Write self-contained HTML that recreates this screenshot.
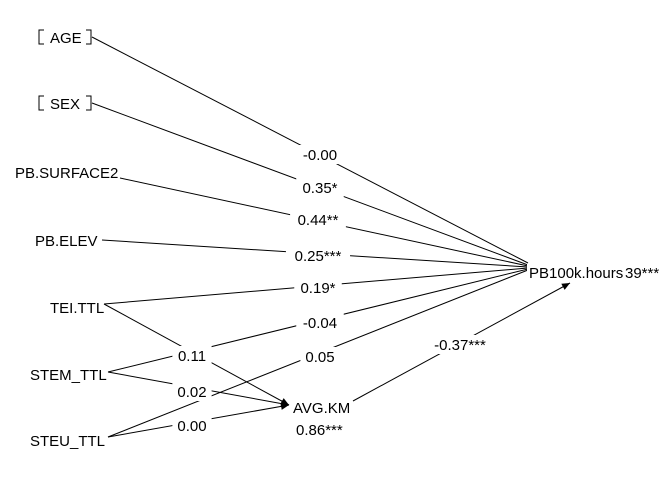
<!DOCTYPE html>
<html><head><meta charset="utf-8"><style>
html,body{margin:0;padding:0;background:#fff;}
svg{display:block;font-family:"Liberation Sans",Arial,sans-serif;font-size:15px;}
</style></head><body>
<svg id="chart" width="672" height="480" viewBox="0 0 672 480"></svg>
<script>
const nodeNames = ["AGE","SEX","PB.SURFACE2","PB.ELEV","TEI.TTL","STEM_TTL","STEU_TTL","AVG.KM","PB100k.hours"];
const nodeIds = ["age","sex","pb-surface2","pb-elev","tei-ttl","stem-ttl","steu-ttl","avg-km","pb100k-hours"];
const edgeFrom = [0,1,2,3,4,5,6,4,5,6,7];
const edgeTo   = [8,8,8,8,8,8,8,7,7,7,8];
const edgeCoef = ["-0.00","0.35*","0.44**","0.25***","0.19*","-0.04","0.05","0.11","0.02","0.00","-0.37***"];
const r2Labels = ["0.86***","39***"];

const svg=document.getElementById('chart');
const NS='http://www.w3.org/2000/svg';
const nodeText=[[50,43],[50,109],[15,178],[35,246],[50,313],[30,380],[30,446],[293,413],[529,278]];
const outPt=[[92,37],[92,103],[120,178],[102,240],[104,304],[108,372],[108,437],[353,401],null];
const inPt=[[0,0],[0,0],[0,0],[0,0],[0,0],[0,0],[0,0],[289,405],[528,268]];
const labelPos=[[320,155],[320,188],[318,220],[318,256],[318,288],[320,323],[320,357],[192,356],[192,392],[192,426],[460,345]];
const pbIn=[263,265,266,267,268,269,270];

function el(tag,attrs){const e=document.createElementNS(NS,tag);for(const k in attrs)e.setAttribute(k,attrs[k]);svg.appendChild(e);return e;}

for(let i=0;i<edgeFrom.length;i++){
  const a=outPt[edgeFrom[i]];
  let b=inPt[edgeTo[i]];
  if(edgeTo[i]===8 && edgeFrom[i]<7) b=[528,pbIn[edgeFrom[i]]];
  if(edgeFrom[i]===7) b=[570,283];
  const ln=el('line',{x1:a[0],y1:a[1],x2:b[0],y2:b[1],stroke:'#000','stroke-width':1});
  
  
  if(edgeTo[i]===7||edgeFrom[i]===7){
    const ang=Math.atan2(b[1]-a[1],b[0]-a[0]);const L=8,W=3.5;
    const p1=[b[0]-L*Math.cos(ang)+W*Math.sin(ang),b[1]-L*Math.sin(ang)-W*Math.cos(ang)];
    const p2=[b[0]-L*Math.cos(ang)-W*Math.sin(ang),b[1]-L*Math.sin(ang)+W*Math.cos(ang)];
    const ah=el('polygon',{points:`${b[0]},${b[1]} ${p1[0]},${p1[1]} ${p2[0]},${p2[1]}`,fill:'#000'});
    
    
  }
}
for(let i=0;i<edgeCoef.length;i++){
  const p=labelPos[i];
  const w=edgeCoef[i].length*8.3+6;
  const bg=el('rect',{x:p[0]-w/2,y:p[1]-10,width:w,height:19,fill:'#fff'});
  
  
  const t=el('text',{x:p[0],y:p[1]+5,'text-anchor':'middle',fill:'#000'});
  t.textContent=edgeCoef[i];
  
  
}
const r1=el('text',{x:296,y:435,fill:'#000'});r1.textContent=r2Labels[0];


const r2=el('text',{x:625,y:278,fill:'#000'});r2.textContent=r2Labels[1];


const pbbg=el('rect',{x:527,y:264,width:96,height:17,fill:'#fff'});


for(let i=0;i<nodeNames.length;i++){
  const p=nodeText[i];
  const t=el('text',{x:p[0],y:p[1],fill:'#000'});
  t.textContent=nodeNames[i];
  
  
}
[37,103].forEach((y,k)=>{
  const l=el('path',{d:`M44 ${y-7} H39 V${y+7} H44`,fill:'none',stroke:'#000','stroke-width':1});
  
  
  const r=el('path',{d:`M86 ${y-7} H91 V${y+7} H86`,fill:'none',stroke:'#000','stroke-width':1});
  
  
});
</script>
</body></html>
